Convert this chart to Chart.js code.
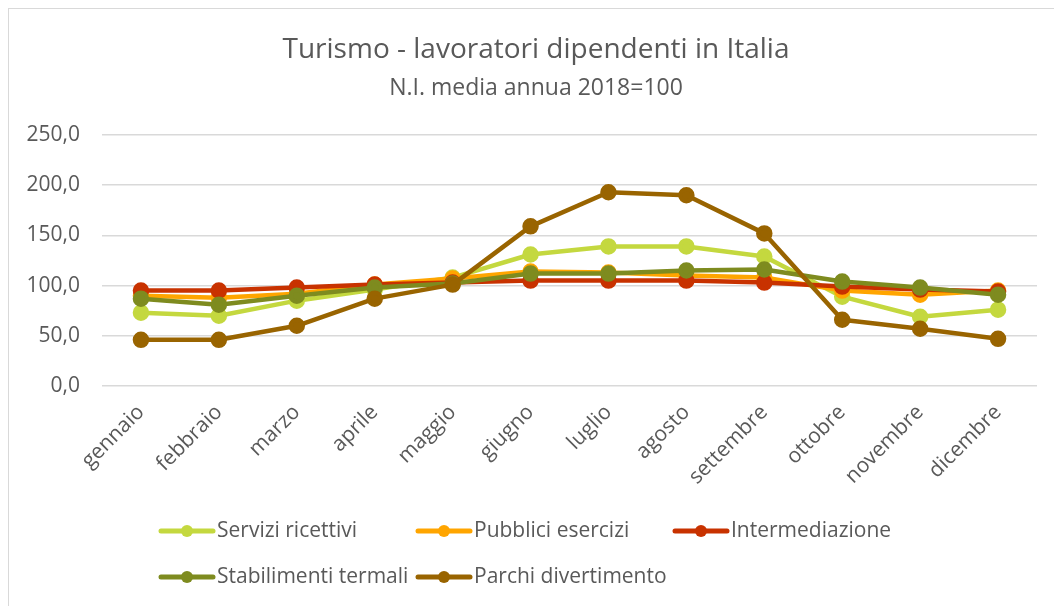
<!DOCTYPE html>
<html>
<head>
<meta charset="utf-8">
<script src="https://cdn.jsdelivr.net/npm/chart.js@4"></script>
<style>
    html, body { margin: 0; padding: 0; background: #fff; }
    #wrap { position: relative; width: 1054px; height: 606px; overflow: hidden; }
    #cornice { position: absolute; left: 8px; top: 8px; right: -10px; bottom: -10px; border: 1px solid #d9d9d9; }
    canvas { position: absolute; left: 0; top: 0; }
</style>
</head>
<body>
<div id="wrap">
    <div id="cornice"></div>
    <canvas id="grafico" width="1054" height="606"></canvas>
</div>
<script>
// Mesi (asse X)
const mesi = ['gennaio', 'febbraio', 'marzo', 'aprile', 'maggio', 'giugno', 'luglio', 'agosto', 'settembre', 'ottobre', 'novembre', 'dicembre'];

// Serie: numeri indice, media annua 2018 = 100
const serviziRicettivi = [73, 70, 85, 96, 108, 131, 139, 139, 129, 89, 69, 76];
const pubbliciEsercizi = [90, 88, 92, 101, 107, 114, 113, 110, 108, 95, 91, 95];
const intermediazione = [95, 95, 98, 101, 103, 105, 105, 105, 103, 99, 96, 94];
const stabilimentiTermali = [87, 81, 90, 98, 102, 112, 112, 115, 116, 104, 98, 91];
const parchiDivertimento = [46, 46, 60, 87, 101, 159, 193, 190, 152, 66, 57, 47];

// Asse Y
const yMin = 0;
const yMax = 250;
const yPasso = 50;

const font = 'Open Sans';
const grigioTesto = '#595959';

function serie(label, data, colore, ordine) {
    return {
        label: label,
        data: data,
        borderColor: colore,
        backgroundColor: colore,
        pointBackgroundColor: colore,
        pointBorderColor: colore,
        borderWidth: 4.5,
        pointRadius: 6,
        borderJoinStyle: 'round',
        borderCapStyle: 'round',
        fill: false,
        tension: 0,
        order: ordine // l'ultima serie sta sopra, come in Excel
    };
}

// Legenda a colonne fisse, come quella di Excel
const legendaManuale = {
    id: 'legendaManuale',
    afterDraw(chart) {
        const ctx = chart.ctx;
        const colonne = [159, 416, 673];
        const righe = [531, 577];
        ctx.save();
        ctx.font = '21px "' + font + '"';
        ctx.textBaseline = 'middle';
        ctx.textAlign = 'left';
        chart.data.datasets.forEach((ds, i) => {
            const x = colonne[i % 3];
            const y = righe[Math.floor(i / 3)];
            ctx.strokeStyle = ds.borderColor;
            ctx.lineWidth = 5;
            ctx.lineCap = 'round';
            ctx.beginPath();
            ctx.moveTo(x + 2, y);
            ctx.lineTo(x + 54, y);
            ctx.stroke();
            ctx.fillStyle = ds.borderColor;
            ctx.beginPath();
            ctx.arc(x + 28, y, 6, 0, Math.PI * 2);
            ctx.fill();
            ctx.fillStyle = grigioTesto;
            ctx.fillText(ds.label, x + 58, y);
        });
        ctx.restore();
    }
};

const ctx = document.getElementById('grafico').getContext('2d');
new Chart(ctx, {
    type: 'line',
    data: {
        labels: mesi,
        datasets: [
            serie('Servizi ricettivi', serviziRicettivi, '#C4D83F', 5),
            serie('Pubblici esercizi', pubbliciEsercizi, '#FFA500', 4),
            serie('Intermediazione', intermediazione, '#C83200', 3),
            serie('Stabilimenti termali', stabilimentiTermali, '#7E8B1F', 2),
            serie('Parchi divertimento', parchiDivertimento, '#996400', 1)
        ]
    },
    options: {
        responsive: false,
        animation: false,
        devicePixelRatio: 1,
        layout: {
            padding: { left: 18, right: 0, top: 0, bottom: 120 }
        },
        plugins: {
            legend: { display: false },
            tooltip: { enabled: false },
            title: {
                display: true,
                text: 'Turismo - lavoratori dipendenti in Italia',
                color: grigioTesto,
                font: { family: font, size: 28, weight: 'normal' },
                padding: { top: 33, bottom: 3 }
            },
            subtitle: {
                display: true,
                text: 'N.I. media annua 2018=100',
                color: grigioTesto,
                font: { family: font, size: 23, weight: 'normal' },
                padding: { top: 4.6, bottom: 33.2 }
            }
        },
        scales: {
            x: {
                offset: true,
                grid: { display: false },
                border: { display: false },
                ticks: {
                    color: grigioTesto,
                    font: { family: font, size: 21 },
                    minRotation: 45,
                    maxRotation: 45,
                    padding: 6
                },
                afterFit: (scale) => { scale.height = 100; }
            },
            y: {
                min: yMin,
                max: yMax,
                grid: { color: '#d9d9d9', lineWidth: 1.5, drawTicks: false },
                border: { display: false },
                ticks: {
                    stepSize: yPasso,
                    color: grigioTesto,
                    font: { family: font, size: 21 },
                    padding: 22,
                    callback: (v) => v.toFixed(1).replace('.', ',')
                },
                afterFit: (scale) => { scale.width = 84; }
            },
            // margine destro vuoto, come nel grafico originale
            margine: {
                position: 'right',
                grid: { display: false },
                border: { display: false },
                ticks: { display: false },
                afterFit: (scale) => { scale.width = 17; }
            }
        }
    },
    plugins: [legendaManuale]
});
</script>
</body>
</html>
